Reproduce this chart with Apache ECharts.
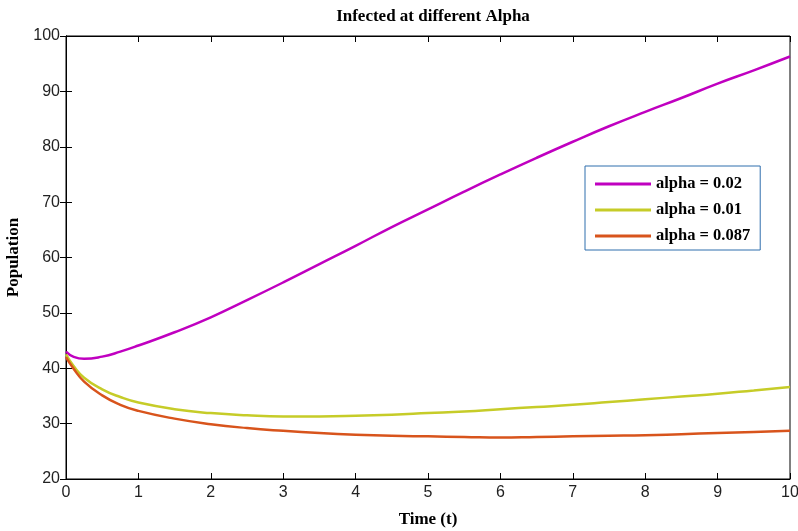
<!DOCTYPE html>
<html lang="en">
<head>
    <meta charset="UTF-8">
    <title>Infected at different Alpha</title>
    <script src="https://cdn.jsdelivr.net/npm/echarts@6/dist/echarts.min.js"></script>
    <style>
        html, body { margin: 0; padding: 0; background: #fff; }
        #chart { width: 798px; height: 531px; }
    </style>
</head>
<body>
    <div id="chart"></div>
    <script>
        // time points (t)
        var timeData = [0, 0.1, 0.25, 0.5, 0.75, 1, 1.5, 2, 2.5, 3, 3.5, 4, 4.5, 5, 5.5, 6, 6.5, 7, 7.5, 8, 8.5, 9, 9.5, 10];
        // alpha = 0.02
        var alpha002 = [43, 42.1, 41.7, 42.1, 43, 44.1, 46.5, 49.2, 52.3, 55.5, 58.8, 62.1, 65.5, 68.7, 71.9, 75, 78, 80.9, 83.7, 86.3, 88.8, 91.4, 93.8, 96.3];
        // alpha = 0.01
        var alpha001 = [42.5, 40.5, 38.3, 36.2, 34.8, 33.8, 32.6, 31.9, 31.5, 31.3, 31.3, 31.4, 31.6, 31.9, 32.2, 32.6, 33, 33.4, 33.9, 34.4, 34.9, 35.4, 36, 36.6];
        // alpha = 0.087
        var alpha0087 = [42, 40, 37.6, 35.1, 33.4, 32.3, 30.9, 29.9, 29.2, 28.7, 28.3, 28.0, 27.8, 27.7, 27.6, 27.5, 27.6, 27.7, 27.8, 27.9, 28.1, 28.3, 28.5, 28.7];

        function pairs(vals) {
            var out = [];
            for (var i = 0; i < timeData.length; i++) {
                out.push([timeData[i], vals[i]]);
            }
            return out;
        }

        var serifBold = {
            fontFamily: 'Liberation Serif',
            fontWeight: 'bold',
            color: '#000'
        };

        var myChart = echarts.init(document.getElementById('chart'));
        var option = {
            animation: false,
            title: {
                text: 'Infected at different Alpha',
                left: 428,
                textAlign: 'center',
                top: 3,
                textStyle: { fontFamily: 'Liberation Serif', fontWeight: 'bold', fontSize: 17, color: '#000' }
            },
            grid: {
                left: 66, right: 8, top: 36, bottom: 52,
                outerBoundsMode: 'none',
                containLabel: false,
                show: true, borderColor: '#000', borderWidth: 1
            },
            legend: {
                orient: 'vertical',
                left: 585,
                top: 166,
                padding: [9, 10, 5, 10],
                itemGap: 8,
                itemWidth: 56,
                itemHeight: 3,
                icon: 'rect',
                borderColor: '#2f6ead',
                borderWidth: 1,
                backgroundColor: '#fff',
                textStyle: { fontFamily: 'Liberation Serif', fontWeight: 'bold', fontSize: 16.5, color: '#000', lineHeight: 18 }
            },
            xAxis: [{
                type: 'value',
                min: 0, max: 10, interval: 1,
                name: 'Time (t)',
                nameLocation: 'middle',
                nameGap: 32,
                nameTextStyle: Object.assign({ fontSize: 17 }, serifBold),
                axisLine: { show: true, lineStyle: { color: '#000' } },
                axisTick: { inside: true, length: 6, lineStyle: { color: '#000' } },
                axisLabel: { fontFamily: 'Liberation Sans', fontSize: 16, color: '#222', margin: 6 },
                splitLine: { show: false }
            }, {
                type: 'value',
                position: 'top',
                min: 0, max: 10, interval: 1,
                axisLine: { show: true, lineStyle: { color: '#000' } },
                axisTick: { inside: true, length: 6, lineStyle: { color: '#000' } },
                axisLabel: { show: false },
                splitLine: { show: false }
            }],
            yAxis: [{
                type: 'value',
                min: 20, max: 100, interval: 10,
                name: 'Population',
                nameLocation: 'middle',
                nameGap: 40,
                nameTextStyle: Object.assign({ fontSize: 17 }, serifBold),
                axisLine: { show: true, lineStyle: { color: '#000' } },
                axisTick: { inside: true, length: 6, lineStyle: { color: '#000' } },
                axisLabel: { fontFamily: 'Liberation Sans', fontSize: 16, color: '#222', margin: 6 },
                splitLine: { show: false }
            }, {
                type: 'value',
                position: 'right',
                min: 20, max: 100, interval: 10,
                axisLine: { show: true, lineStyle: { color: '#000' } },
                axisTick: { inside: true, length: 6, lineStyle: { color: '#000' } },
                axisLabel: { show: false },
                splitLine: { show: false }
            }],
            series: [{
                name: 'alpha = 0.02',
                type: 'line',
                smooth: true,
                symbol: 'none',
                data: pairs(alpha002),
                lineStyle: { color: '#c000c0', width: 2.5 },
                itemStyle: { color: '#c000c0' }
            }, {
                name: 'alpha = 0.01',
                type: 'line',
                smooth: true,
                symbol: 'none',
                data: pairs(alpha001),
                lineStyle: { color: '#c6cc28', width: 2.5 },
                itemStyle: { color: '#c6cc28' }
            }, {
                name: 'alpha = 0.087',
                type: 'line',
                smooth: true,
                symbol: 'none',
                data: pairs(alpha0087),
                lineStyle: { color: '#d8541c', width: 2.5 },
                itemStyle: { color: '#d8541c' }
            }]
        };
        myChart.setOption(option);
    </script>
</body>
</html>
